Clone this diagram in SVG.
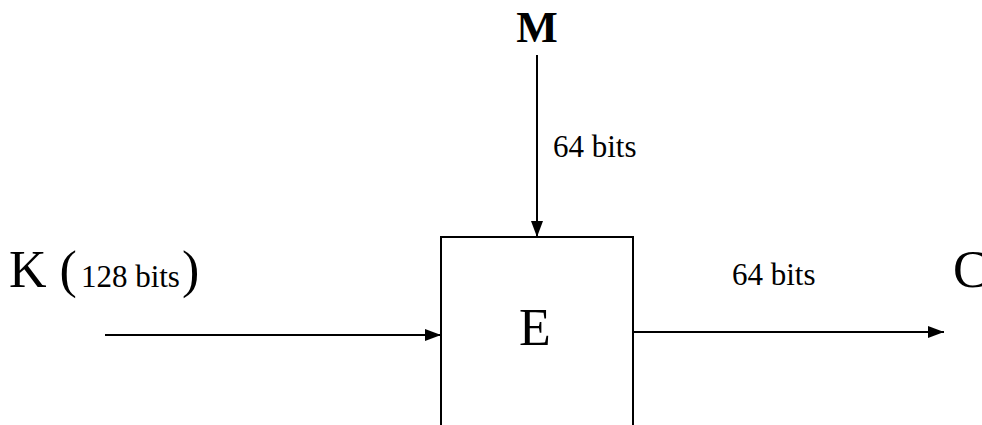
<svg xmlns="http://www.w3.org/2000/svg" width="982" height="425" viewBox="0 0 982 425">
<style>
text,tspan{font-family:"Liberation Serif","Times New Roman",serif;fill:#000}
.big{font-size:52px}
.small{font-size:31px}
.conn{stroke:#000;stroke-width:2;fill:none}
</style>
<defs>
<marker id="ah" markerWidth="16" markerHeight="12" refX="16" refY="6" orient="auto" markerUnits="userSpaceOnUse">
<path d="M0,0 L16,6 L0,12 Z" fill="#000"/>
</marker>
</defs>
<rect width="982" height="425" fill="#fff"/>
<g id="E">
<rect x="441" y="237" width="192" height="200" fill="#fff" stroke="#000" stroke-width="2"/>
<text class="big" x="535" y="345" text-anchor="middle" font-family="Liberation Serif, serif">E</text>
</g>
<g id="M">
<text x="537" y="42" text-anchor="middle" font-size="44" font-weight="bold" font-family="Liberation Serif, serif">M</text>
</g>
<g id="K">
<text class="big" x="9" y="287" font-family="Liberation Serif, serif">K (<tspan class="small" dx="4" font-family="Liberation Serif, serif">128 bits</tspan><tspan dx="2">)</tspan></text>
</g>
<g id="C">
<text class="big" x="953" y="287" font-family="Liberation Serif, serif">C</text>
</g>
<g id="connectors">
<line class="conn" x1="537" y1="55" x2="537" y2="237" marker-end="url(#ah)"/>
<line class="conn" x1="105" y1="335" x2="441" y2="335" marker-end="url(#ah)"/>
<line class="conn" x1="633" y1="332" x2="944" y2="332" marker-end="url(#ah)"/>
<text class="small" x="553" y="157" font-family="Liberation Serif, serif">64 bits</text>
<text class="small" x="732" y="285" font-family="Liberation Serif, serif">64 bits</text>
</g>
</svg>
